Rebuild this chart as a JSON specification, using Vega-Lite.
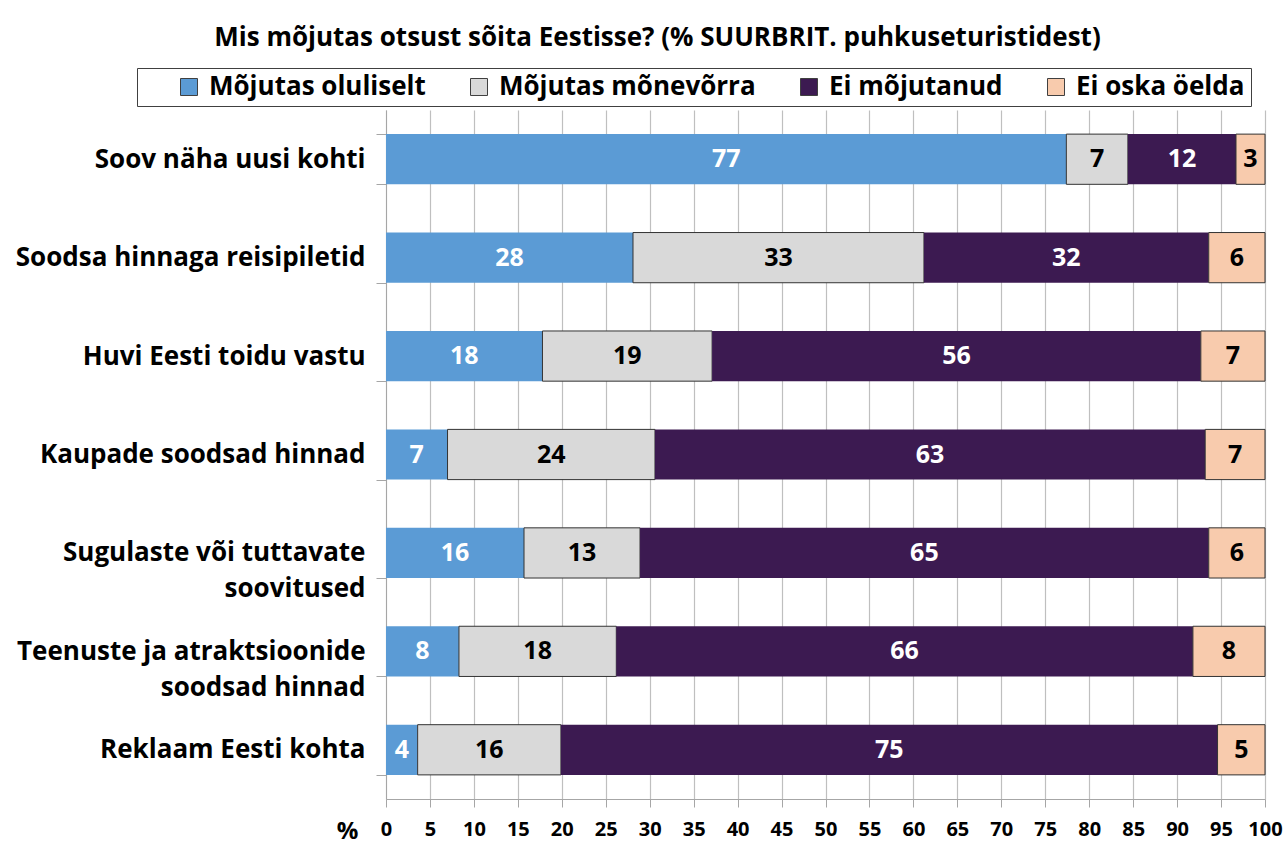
{
  "$schema": "https://vega.github.io/schema/vega-lite/v6.json",
  "width": 879,
  "height": 689,
  "autosize": {"type": "none"},
  "padding": {"left": 386, "top": 110, "right": 20, "bottom": 46},
  "background": "white",
  "config": {
    "font": "Open Sans",
    "view": {"stroke": null}
  },
  "title": {
    "text": "Mis mõjutas otsust sõita Eestisse? (% SUURBRIT. puhkuseturistidest)",
    "fontSize": 26,
    "fontWeight": "bold",
    "font": "Open Sans",
    "color": "black",
    "anchor": "middle",
    "frame": "group",
    "dx": -168,
    "offset": 17
  },
  "data": {
    "values": [
      {"q": "Soov näha uusi kohti", "cat": "Mõjutas oluliselt", "ord": 1, "value": 77.4},
      {"q": "Soov näha uusi kohti", "cat": "Mõjutas mõnevõrra", "ord": 2, "value": 7.0},
      {"q": "Soov näha uusi kohti", "cat": "Ei mõjutanud", "ord": 3, "value": 12.3},
      {"q": "Soov näha uusi kohti", "cat": "Ei oska öelda", "ord": 4, "value": 3.3},
      {"q": "Soodsa hinnaga reisipiletid", "cat": "Mõjutas oluliselt", "ord": 1, "value": 28.1},
      {"q": "Soodsa hinnaga reisipiletid", "cat": "Mõjutas mõnevõrra", "ord": 2, "value": 33.1},
      {"q": "Soodsa hinnaga reisipiletid", "cat": "Ei mõjutanud", "ord": 3, "value": 32.4},
      {"q": "Soodsa hinnaga reisipiletid", "cat": "Ei oska öelda", "ord": 4, "value": 6.4},
      {"q": "Huvi Eesti toidu vastu", "cat": "Mõjutas oluliselt", "ord": 1, "value": 17.8},
      {"q": "Huvi Eesti toidu vastu", "cat": "Mõjutas mõnevõrra", "ord": 2, "value": 19.3},
      {"q": "Huvi Eesti toidu vastu", "cat": "Ei mõjutanud", "ord": 3, "value": 55.6},
      {"q": "Huvi Eesti toidu vastu", "cat": "Ei oska öelda", "ord": 4, "value": 7.3},
      {"q": "Kaupade soodsad hinnad", "cat": "Mõjutas oluliselt", "ord": 1, "value": 7.0},
      {"q": "Kaupade soodsad hinnad", "cat": "Mõjutas mõnevõrra", "ord": 2, "value": 23.6},
      {"q": "Kaupade soodsad hinnad", "cat": "Ei mõjutanud", "ord": 3, "value": 62.6},
      {"q": "Kaupade soodsad hinnad", "cat": "Ei oska öelda", "ord": 4, "value": 6.8},
      {"q": "Sugulaste või tuttavate|soovitused", "cat": "Mõjutas oluliselt", "ord": 1, "value": 15.7},
      {"q": "Sugulaste või tuttavate|soovitused", "cat": "Mõjutas mõnevõrra", "ord": 2, "value": 13.2},
      {"q": "Sugulaste või tuttavate|soovitused", "cat": "Ei mõjutanud", "ord": 3, "value": 64.7},
      {"q": "Sugulaste või tuttavate|soovitused", "cat": "Ei oska öelda", "ord": 4, "value": 6.4},
      {"q": "Teenuste ja atraktsioonide|soodsad hinnad", "cat": "Mõjutas oluliselt", "ord": 1, "value": 8.3},
      {"q": "Teenuste ja atraktsioonide|soodsad hinnad", "cat": "Mõjutas mõnevõrra", "ord": 2, "value": 17.9},
      {"q": "Teenuste ja atraktsioonide|soodsad hinnad", "cat": "Ei mõjutanud", "ord": 3, "value": 65.6},
      {"q": "Teenuste ja atraktsioonide|soodsad hinnad", "cat": "Ei oska öelda", "ord": 4, "value": 8.2},
      {"q": "Reklaam Eesti kohta", "cat": "Mõjutas oluliselt", "ord": 1, "value": 3.6},
      {"q": "Reklaam Eesti kohta", "cat": "Mõjutas mõnevõrra", "ord": 2, "value": 16.3},
      {"q": "Reklaam Eesti kohta", "cat": "Ei mõjutanud", "ord": 3, "value": 74.7},
      {"q": "Reklaam Eesti kohta", "cat": "Ei oska öelda", "ord": 4, "value": 5.4}
    ]
  },
  "transform": [
    {"stack": "value", "groupby": ["q"], "sort": [{"field": "ord", "order": "ascending"}], "as": ["v0", "v1"]},
    {"calculate": "(datum.v0 + datum.v1) / 2", "as": "mid"}
  ],
  "encoding": {
    "y": {
      "field": "q",
      "type": "nominal",
      "sort": null,
      "scale": {"paddingInner": 0.49, "paddingOuter": 0.245},
      "axis": {
        "title": null,
        "labelExpr": "split(datum.label, '|')",
        "labelFontSize": 26,
        "labelFontWeight": "bold",
        "labelColor": "black",
        "labelLineHeight": 36,
        "labelLimit": 400,
        "labelPadding": 11,
        "tickBand": "extent",
        "tickSize": 10,
        "tickColor": "#a6a6a6",
        "domainColor": "#a6a6a6",
        "grid": false
      }
    }
  },
  "layer": [
    {
      "mark": {"type": "bar"},
      "encoding": {
        "x": {
          "field": "v0",
          "type": "quantitative",
          "scale": {"domain": [0, 100], "nice": false},
          "axis": {
            "values": [0, 5, 10, 15, 20, 25, 30, 35, 40, 45, 50, 55, 60, 65, 70, 75, 80, 85, 90, 95, 100],
            "grid": true,
            "gridColor": "#bfbfbf",
            "gridWidth": 1.2,
            "domainColor": "#a6a6a6",
            "tickColor": "#a6a6a6",
            "tickSize": 8,
            "labelFontSize": 20,
            "labelFontWeight": "bold",
            "labelColor": "black",
            "labelPadding": 12,
            "labelFlush": false,
            "title": "%",
            "titleFontSize": 24,
            "titleFontWeight": "bold",
            "titleColor": "black",
            "titleX": -39,
            "titleY": 32,
            "titleAlign": "center",
            "titleBaseline": "middle",
            "titleAngle": 0
          }
        },
        "x2": {"field": "v1"},
        "color": {
          "field": "cat",
          "type": "nominal",
          "scale": {
            "domain": ["Mõjutas oluliselt", "Mõjutas mõnevõrra", "Ei mõjutanud", "Ei oska öelda"],
            "range": ["#5b9bd5", "#d9d9d9", "#3c1a51", "#f8cbad"]
          },
          "legend": {
            "title": " ",
            "titleOrient": "left",
            "titleFontSize": 26,
            "titlePadding": 33,
            "orient": "none",
            "direction": "horizontal",
            "legendX": -249,
            "legendY": -42,
            "strokeColor": "#404040",
            "padding": 6,
            "symbolType": "square",
            "symbolSize": 289,
            "symbolStrokeColor": "#404040",
            "symbolStrokeWidth": 1,
            "labelFontSize": 26,
            "labelFontWeight": "bold",
            "labelColor": "black",
            "labelOffset": 7,
            "labelLimit": 400,
            "labelExpr": "datum.value === 'Ei oska öelda' ? datum.label + '     ' : datum.label",
            "columnPadding": 40
          }
        },
        "stroke": {
          "condition": {"test": "datum.cat === 'Mõjutas mõnevõrra' || datum.cat === 'Ei oska öelda'", "value": "#333333"},
          "value": null
        },
        "strokeWidth": {"value": 1}
      }
    },
    {
      "mark": {"type": "text", "fontSize": 25, "fontWeight": "bold", "baseline": "middle", "align": "center"},
      "encoding": {
        "x": {"field": "mid", "type": "quantitative"},
        "text": {"field": "value", "type": "quantitative", "format": ".0f"},
        "color": {
          "condition": {"test": "datum.cat === 'Mõjutas oluliselt' || datum.cat === 'Ei mõjutanud'", "value": "white"},
          "value": "black"
        }
      }
    }
  ]
}
